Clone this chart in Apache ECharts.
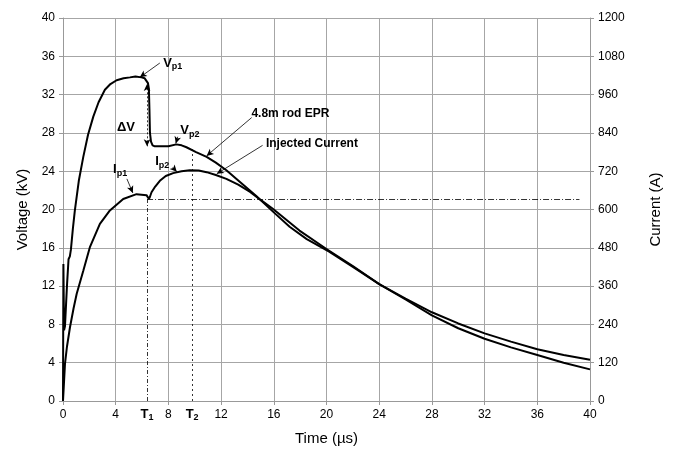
<!DOCTYPE html>
<html>
<head>
<meta charset="utf-8">
<script src="https://cdn.jsdelivr.net/npm/echarts@6/dist/echarts.min.js"></script>
<style>
  html, body { margin: 0; padding: 0; background: #fff; }
  #chart { width: 676px; height: 453px; }
</style>
</head>
<body>
<div id="chart"></div>
<script>
  // 电压 (kV) 曲线
  var voltTime = [0, 0.03, 0.08, 0.15, 0.3, 0.42, 0.52, 0.6, 0.75, 0.9, 1.2, 1.54, 1.9, 2.3, 2.7, 3.18, 3.6, 4.07, 4.6, 5.08, 5.5, 5.96, 6.2, 6.34, 6.45, 6.52, 6.56, 6.6, 6.68, 6.8, 6.97, 7.5, 8.0, 8.6, 9.0, 9.37, 10.1, 10.9, 11.6, 12.4, 13.5, 14.67, 16, 17.2, 18.5, 20.2, 22, 24, 26, 28, 30, 32, 34, 36, 38, 40]
  var voltValue = [0, 14.3, 7.4, 7.8, 12, 14.8, 15.1, 15.8, 18, 19.9, 23, 25.5, 27.8, 29.7, 31.2, 32.5, 33.1, 33.5, 33.7, 33.8, 33.9, 33.8, 33.7, 33.5, 33.2, 32.6, 30.5, 28, 27.1, 26.7, 26.6, 26.6, 26.6, 26.8, 26.7, 26.5, 26.0, 25.5, 24.9, 24.1, 22.8, 21.4, 19.7, 18.2, 16.9, 15.6, 14.0, 12.2, 10.6, 8.95, 7.6, 6.5, 5.6, 4.8, 4.0, 3.3]

  // 电流 (A) 曲线
  var currTime = [0, 0.15, 0.3, 0.53, 0.8, 1.04, 1.54, 2.05, 2.8, 3.56, 4.57, 5.58, 6.34, 6.45, 6.52, 6.6, 6.72, 7.0, 7.35, 7.8, 8.36, 9.0, 9.62, 10.3, 10.9, 11.6, 12.4, 13.3, 14.2, 15.0, 15.9, 17.95, 19.97, 22, 24, 26, 28, 30, 32, 34, 36, 38, 40]
  var currValue = [0, 116, 170, 231, 290, 336, 408, 483, 555, 597, 633, 648, 645, 640, 633, 640, 654, 672, 690, 705, 714, 720, 723, 722, 717, 708, 696, 678, 655, 630, 603, 534, 477, 423, 366, 321, 278, 243, 212, 186, 162, 144, 129]

  // 标注线
  var t1 = 6.38
  var t2 = 9.8
  var ip1 = 633
  var vp1 = 33.4
  var vp2 = 26.6

  var font = 'Liberation Sans, Arial, sans-serif'

  function pairs(xs, ys) {
    var out = []
    for (var i = 0; i < xs.length; i++) out.push([xs[i], ys[i]])
    return out
  }

  var myChart = echarts.init(document.getElementById('chart'))

  var pointer = function (from, to) {
    return [{ coord: from, symbol: 'none' }, { coord: to, symbol: 'arrow', symbolSize: [5, 7] }]
  }

  var option = {
    animation: false,
    grid: { left: 63, right: 86, top: 18, bottom: 52 },
    xAxis: {
      type: 'value', min: 0, max: 40, interval: 4,
      name: 'Time (\u00b5s)', nameLocation: 'middle', nameGap: 30,
      nameTextStyle: { fontFamily: font, fontSize: 15, color: '#000' },
      axisLine: { lineStyle: { color: '#999' } },
      axisTick: { show: true, length: 4, lineStyle: { color: '#999' } },
      axisLabel: { fontFamily: font, fontSize: 12, color: '#000', margin: 8 },
      splitLine: { show: true, lineStyle: { color: '#a6a6a6', width: 1 } }
    },
    yAxis: [{
      type: 'value', min: 0, max: 40, interval: 4,
      name: 'Voltage (kV)', nameLocation: 'middle', nameGap: 33,
      nameTextStyle: { fontFamily: font, fontSize: 15, color: '#000' },
      axisLine: { show: true, lineStyle: { color: '#999' } },
      axisTick: { show: true, length: 4, lineStyle: { color: '#999' } },
      axisLabel: { fontFamily: font, fontSize: 12, color: '#000', margin: 8 },
      splitLine: { show: true, lineStyle: { color: '#a6a6a6', width: 1 } }
    }, {
      type: 'value', min: 0, max: 1200, interval: 120,
      name: 'Current (A)', nameLocation: 'middle', nameGap: 58,
      nameTextStyle: { fontFamily: font, fontSize: 15, color: '#000' },
      axisLine: { show: true, lineStyle: { color: '#999' } },
      axisTick: { show: true, length: 4, lineStyle: { color: '#999' } },
      axisLabel: { fontFamily: font, fontSize: 12, color: '#000', margin: 8, formatter: function (v) { return String(v) } },
      splitLine: { show: false }
    }],
    series: [{
      name: '4.8m rod EPR',
      type: 'line',
      yAxisIndex: 0,
      showSymbol: false,
      lineStyle: { color: '#000', width: 2 },
      data: pairs(voltTime, voltValue),
      markLine: {
        silent: true,
        symbol: 'none',
        label: { show: false },
        lineStyle: { color: '#000', width: 0.8, type: 'solid' },
        data: [
          pointer([7.35, 35.3], [5.83, 33.8]),
          pointer([8.71, 27.6], [8.56, 26.9]),
          pointer([14.32, 29.6], [10.9, 25.6]),
          [{ coord: [t1, 0], symbol: 'none', lineStyle: { type: [4, 2, 1, 2] } }, { coord: [t1, 21.1], symbol: 'none' }],
          [{ coord: [t1, vp2], symbol: 'arrow', symbolSize: [5, 7], lineStyle: { type: [2, 2] } }, { coord: [t1, vp1 - 0.3], symbol: 'arrow', symbolSize: [5, 7] }],
          [{ coord: [t2, 0], symbol: 'none', lineStyle: { type: [2, 3] } }, { coord: [t2, 26.3], symbol: 'none' }]
        ]
      }
    }, {
      name: 'Injected Current',
      type: 'line',
      yAxisIndex: 1,
      showSymbol: false,
      lineStyle: { color: '#000', width: 2 },
      data: pairs(currTime, currValue),
      markLine: {
        silent: true,
        symbol: 'none',
        label: { show: false },
        lineStyle: { color: '#000', width: 0.8, type: 'solid' },
        data: [
          pointer([15.15, 801], [11.67, 712]),
          pointer([4.85, 696], [5.3, 652]),
          pointer([8.33, 732], [8.64, 718]),
          [{ coord: [t1, ip1], symbol: 'none', lineStyle: { type: [6, 2, 1, 2] } }, { coord: [39.2, ip1], symbol: 'none' }]
        ]
      }
    }]
  }
  myChart.setOption(option)

  // 文字标注，位置按数据坐标换算
  var rich = {
    b: { fontFamily: font, fontSize: 13, fontWeight: 'bold', color: '#000' },
    s: { fontFamily: font, fontSize: 9, fontWeight: 'bold', color: '#000', padding: [8, 0, 0, 0] },
    t: { fontFamily: font, fontSize: 12, fontWeight: 'bold', color: '#000' }
  }
  function note(str, t, v, axis) {
    var p = myChart.convertToPixel({ xAxisIndex: 0, yAxisIndex: axis || 0 }, [t, v])
    return {
      type: 'text', x: p[0], y: p[1],
      style: { text: str, rich: rich, verticalAlign: 'middle', align: 'left' }
    }
  }
  function tick(str, t) {
    var p = myChart.convertToPixel({ xAxisIndex: 0, yAxisIndex: 0 }, [t, 0])
    return {
      type: 'text', x: p[0], y: p[1] + 13,
      style: { text: str, rich: rich, verticalAlign: 'middle', align: 'center' }
    }
  }
  myChart.setOption({
    graphic: [
      note('{b|V}{s|p1}', 7.6, 35.3),
      note('{b|\u0394V}', 4.1, 28.6),
      note('{b|V}{s|p2}', 8.9, 28.3),
      note('{t|4.8m rod EPR}', 14.3, 30.0),
      note('{t|Injected Current}', 15.4, 26.9),
      note('{b|I}{s|p1}', 3.8, 24.2),
      note('{b|I}{s|p2}', 7.0, 25.0),
      tick('{b|T}{s|1}', t1),
      tick('{b|T}{s|2}', t2)
    ]
  })
</script>
</body>
</html>
